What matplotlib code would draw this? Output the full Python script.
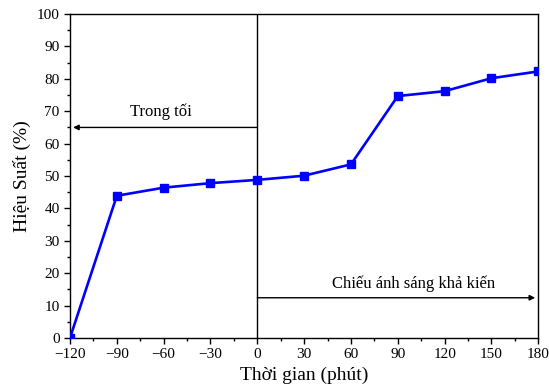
import matplotlib.pyplot as plt

plt.rcParams['font.family'] = ['Liberation Serif', 'DejaVu Serif']

time_min = [-120, -90, -60, -30, 0, 30, 60, 90, 120, 150, 180]
efficiency = [0, 43.9, 46.4, 47.8, 48.8, 50.1, 53.6, 74.7, 76.2, 80.2, 82.3]
x_ticks = [-120, -90, -60, -30, 0, 30, 60, 90, 120, 150, 180]
y_ticks = [0, 10, 20, 30, 40, 50, 60, 70, 80, 90, 100]

fig = plt.figure(figsize=(5.49, 3.92), dpi=100)
ax = fig.add_axes([0.1275, 0.138, 0.853, 0.826])

ax.plot(time_min, efficiency, color='blue', lw=1.9, marker='s', ms=5.5, zorder=3)
ax.axvline(0, color='black', lw=1)

# dark phase / light phase arrows
arrow = dict(arrowstyle='-|>', color='black', lw=1, mutation_scale=8, shrinkA=0, shrinkB=0)
ax.annotate('', xy=(-118, 65), xytext=(0, 65), arrowprops=arrow)
ax.text(-62, 67.3, 'Trong tối', ha='center', va='bottom', fontsize=12)
ax.annotate('', xy=(178, 12.4), xytext=(0, 12.4), arrowprops=arrow)
ax.text(100, 14.3, 'Chiếu ánh sáng khả kiến', ha='center', va='bottom', fontsize=12)

ax.set_xlim(-120, 180)
ax.set_ylim(0, 100)
ax.set_xticks(x_ticks)
ax.set_yticks(y_ticks)
ax.set_xticks([x + 15 for x in x_ticks[:-1]], minor=True)
ax.set_yticks([y + 5 for y in y_ticks[:-1]], minor=True)
ax.set_xticklabels([str(x).replace('-', '\u2212') for x in x_ticks])
ax.tick_params(which='major', direction='out', length=4, width=1, labelsize=11)
ax.tick_params(which='minor', direction='out', length=2, width=1)
for s in ax.spines.values():
    s.set_linewidth(1)

ax.set_xlabel('Thời gian (phút)', fontsize=14)
ax.set_ylabel('Hiệu Suất (%)', fontsize=14)

fig.savefig('out.png', dpi=100)
